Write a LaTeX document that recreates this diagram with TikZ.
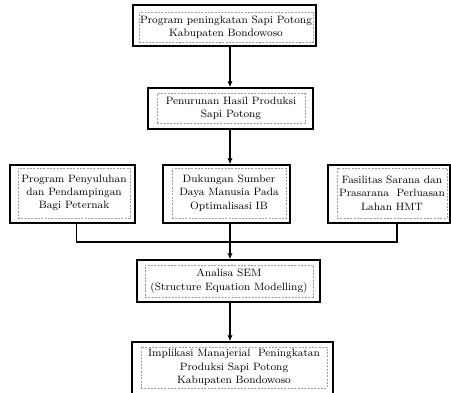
\documentclass[tikz,border=0pt]{standalone}
\usetikzlibrary{arrows.meta}
\begin{document}
\begin{tikzpicture}[x=0.75pt,y=0.75pt,yscale=-1,xscale=1,
  outerbox/.style={draw, line width=1.1pt, inner sep=0pt},
  txtbox/.style={draw=gray!75, dash pattern=on 1.5pt off 1pt, line width=0.4pt, align=center, inner sep=0.75pt, font=\fontsize{8}{10}\selectfont},
  conn/.style={line width=0.9pt},
  arr/.style={conn, -{Latex[length=4.5pt,width=4pt]}}]
\useasboundingbox (0,0) rectangle (451,393);

%Shape: Rectangle [id:program]
\node (prog) [outerbox, minimum width=137.25pt, minimum height=30.75pt] at (224.5,25.5) {};
% Text Node
\node (progT) [txtbox, minimum width=126pt, minimum height=22.5pt] at (226,27) {Program peningkatan Sapi Potong\\Kabupaten Bondowoso};

%Shape: Rectangle [id:penurunan]
\node (turun) [outerbox, minimum width=123.75pt, minimum height=30.75pt] at (230.5,108.5) {};
% Text Node
\node (turunT) [txtbox, minimum width=111pt, minimum height=22.5pt] at (231,108.5) {Penurunan Hasil Produksi\\Sapi Potong};

%Shape: Rectangle [id:penyuluhan]
\node (suluh) [outerbox, minimum width=93.75pt, minimum height=43.5pt] at (72.5,194) {};
% Text Node
\node (suluhT) [txtbox, minimum width=84pt, minimum height=37.5pt] at (74,193) {Program Penyuluhan\\dan Pendampingan\\Bagi Peternak};

%Shape: Rectangle [id:sdm]
\node (sdm) [outerbox, minimum width=95.25pt, minimum height=43.5pt] at (226.5,194) {};
% Text Node
\node (sdmT) [txtbox, minimum width=85.5pt, minimum height=37.5pt] at (229,193) {Dukungan Sumber\\Daya Manusia Pada\\Optimalisasi IB};

%Shape: Rectangle [id:sarana]
\node (sarana) [outerbox, minimum width=91.5pt, minimum height=43.5pt] at (389,194) {};
% Text Node
\node (saranaT) [txtbox, minimum width=82.5pt, minimum height=37.5pt] at (392,193) {Fasilitas Sarana dan\\Prasarana~ Perluasan\\Lahan HMT};

%Shape: Rectangle [id:sem]
\node (sem) [outerbox, minimum width=137.25pt, minimum height=31.5pt] at (228.5,281) {};
% Text Node
\node (semT) [txtbox, minimum width=126pt, minimum height=24pt] at (229,281) {Analisa SEM\\(Structure Equation Modelling)};

%Shape: Rectangle [id:implikasi]
\node (impl) [outerbox, minimum width=150.75pt, minimum height=39.75pt] at (232.5,368.5) {};
% Text Node
\node (implT) [txtbox, minimum width=139.5pt, minimum height=30.75pt] at (234,367.5) {Implikasi Manajerial~ Peningkatan\\Produksi Sapi Potong\\Kabupaten Bondowoso};

% Connectors
\coordinate (jn) at (230,242);
\draw [arr] (prog.south -| jn) -- (turun.north -| jn);
\draw [arr] (turun.south -| jn) -- (sdm.north -| jn);
\draw [conn] (suluh.south) ++(4,0) |- (jn) -| ([xshift=6pt]sarana.south);
\draw [conn] (sdm.south -| jn) -- (jn);
\draw [arr] (jn) -- (sem.north -| jn);
\draw [arr] (sem.south -| jn) -- (impl.north -| jn);

\end{tikzpicture}
\end{document}
